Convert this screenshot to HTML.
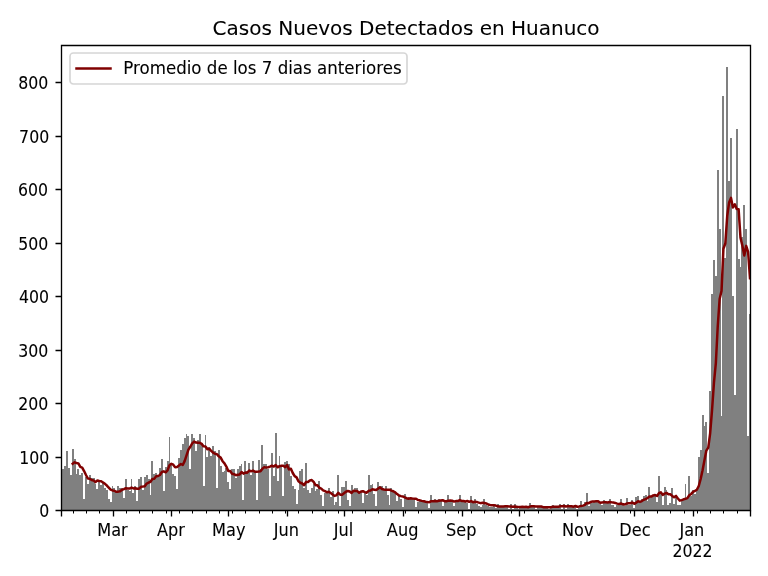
<!DOCTYPE html>
<html lang="es"><head><meta charset="utf-8"><title>Casos Nuevos Detectados en Huanuco</title>
<style>html,body{margin:0;padding:0;background:#fff}svg{display:block}</style></head>
<body>
<svg width="768" height="576" viewBox="0 0 768 576">
<defs><clipPath id="ax"><rect x="61" y="45" width="689" height="465"/></clipPath></defs>
<rect width="768" height="576" fill="#fff"/>
<g clip-path="url(#ax)">
<path d="M61 510V469H62V469H64V466H66V451H68V468H70V475H72V449H74V459H76V474H77V469H79V475H81V473H83V499H85V477H87V484H89V475H91V478H93V478H95V484H96V489H98V480H100V485H102V483H104V488H106V490H108V499H110V502H112V486H113V488H115V491H117V486H119V488H121V488H123V498H125V479H127V490H129V491H131V479H132V493H134V486H136V501H138V479H140V477H142V490H144V477H146V475H148V479H150V495H151V461H153V474H155V473H157V475H159V468H161V459H163V491H165V467H167V461H169V437H170V465H172V474H174V476H176V489H178V458H180V450H182V444H184V438H186V434H187V436H189V469H191V434H193V438H195V451H197V440H199V434H201V443H203V486H205V435H206V457H208V447H210V456H212V446H214V451H216V488H218V450H220V466H222V472H224V471H225V468H227V482H229V489H231V469H233V469H235V478H237V469H239V466H241V464H242V500H244V461H246V471H248V463H250V475H252V461H254V471H256V500H258V460H260V469H261V445H263V464H265V464H267V469H269V496H271V453H273V476H275V433H277V481H279V456H280V467H282V496H284V462H286V461H288V464H290V476H292V486H294V489H296V504H298V490H299V471H301V469H303V488H305V463H307V490H309V493H311V488H313V484H315V491H316V489H318V481H320V495H322V506H324V493H326V492H328V488H330V497H332V491H334V505H335V502H337V475H339V506H341V487H343V487H345V481H347V500H349V506H351V485H353V491H354V488H356V488H358V492H360V491H362V503H364V492H366V495H368V475H370V485H372V484H373V494H375V506H377V482H379V486H381V486H383V489H385V486H387V495H389V505H390V488H392V491H394V493H396V501H398V496H400V499H402V507H404V494H406V498H408V497H409V498H411V498H413V500H415V507H417V502H419V500H421V501H423V500H425V502H427V502H428V508H430V495H432V501H434V499H436V501H438V499H440V500H442V506H444V502H445V502H447V495H449V501H451V500H453V506H455V502H457V501H459V495H461V501H463V502H464V502H466V503H468V509H470V496H472V502H474V499H476V504H478V506H480V507H482V505H483V499H485V505H487V506H489V507H491V507H493V506H495V508H497V504H499V506H501V506H502V506H504V506H506V507H508V509H510V504H512V509H514V504H516V507H518V509H519V507H521V507H523V507H525V507H527V507H529V503H531V507H533V507H535V509H537V507H538V507H540V507H542V507H544V507H546V507H548V509H550V507H552V505H554V507H556V507H557V506H559V504H561V509H563V504H565V509H567V504H569V507H571V507H573V507H574V505H576V509H578V506H580V501H582V505H584V502H586V493H588V506H590V501H592V503H593V501H595V502H597V502H599V504H601V505H603V500H605V502H607V502H609V499H611V505H612V505H614V507H616V505H618V505H620V499H622V505H624V506H626V498H628V505H630V505H631V500H633V508H635V497H637V496H639V503H641V499H643V496H645V495H647V501H648V487H650V496H652V495H654V496H656V502H658V476H660V494H662V505H664V487H666V490H667V505H669V503H671V488H673V504H675V496H677V505H679V505H681V501H683V498H685V484H686V499H688V476H690V496H692V490H694V494H696V490H698V457H700V450H702V415H704V426H705V422H707V473H709V391H711V294H713V260H715V276H717V170H719V229H721V416H722V96H724V258H726V67H728V181H730V138H732V296H734V395H736V129H738V259H740V267H741V237H743V205H745V229H747V436H749V314H750V510Z" fill="#808080" shape-rendering="crispEdges"/>
<path d="M72.7 463.7L74.6 462.32L76.5 463.01L78.39 463.47L80.29 466.86L82.19 467.55L84.09 471.06L85.98 474.99L87.88 478.51L89.78 478.66L91.67 479.96L93.57 480.42L95.47 482.09L97.37 480.57L99.26 481.03L101.16 481.25L103.06 482.48L104.95 483.85L106.85 485.53L108.75 487.59L110.65 489.58L112.54 490.42L114.44 490.72L116.34 491.79L118.23 491.64L120.13 491.33L122.03 489.73L123.93 489.08L125.82 488.16L127.72 488.55L129.62 488.62L131.51 487.63L133.41 488.47L135.31 488.24L137.21 488.74L139.1 488.74L141 486.83L142.9 486.6L144.79 486.22L146.69 483.55L148.59 482.63L150.49 481.75L152.38 479.08L154.28 478.66L156.18 476.29L158.07 475.99L159.97 474.99L161.87 472.02L163.77 471.37L165.66 472.28L167.56 470.41L169.46 465.22L171.35 463.85L173.25 464.73L175.15 467.17L177.05 466.9L178.94 465.53L180.84 464L182.74 464.99L184.63 461.1L186.53 455.34L188.43 449.61L190.33 446.75L192.22 443.31L194.12 441.56L196.02 442.55L197.91 442.85L199.81 442.85L201.71 443.92L203.61 446.37L205.5 446.52L207.4 449.19L209.3 448.66L211.19 450.95L213.09 452.7L214.99 453.77L216.89 454.11L218.78 456.33L220.68 457.63L222.58 461.21L224.47 463.35L226.37 466.56L228.27 470.99L230.17 471.02L232.06 473.7L233.96 474.23L235.86 475.15L237.75 474.84L239.65 474.54L241.55 472.02L243.45 473.62L245.34 472.48L247.24 472.7L249.14 470.49L251.03 471.33L252.93 470.57L254.83 471.64L256.73 471.64L258.62 471.48L260.52 471.25L262.42 468.66L264.31 467.13L266.21 467.59L268.11 467.28L270.01 466.67L271.9 465.68L273.8 466.6L275.7 464.96L277.59 467.32L279.49 466.18L281.39 465.8L283.29 465.8L285.18 467.17L287.08 465.03L288.98 469.42L290.88 468.73L292.77 473.01L294.67 476.18L296.57 477.35L298.46 481.32L300.36 482.77L302.26 483.46L304.16 485.22L306.05 481.93L307.95 482.05L309.85 480.45L311.74 480.07L313.64 481.98L315.54 485.19L317.44 485.26L319.33 487.78L321.23 488.55L323.13 490.42L325.02 491.18L326.92 492.25L328.82 491.71L330.72 492.94L332.61 494.39L334.51 495.87L336.41 495.34L338.3 492.74L340.2 494.73L342.1 494.65L344 493.2L345.89 491.75L347.79 490.95L349.69 491.48L351.58 492.94L353.48 490.87L355.38 490.99L357.28 491.1L359.17 492.78L361.07 491.56L362.97 491.18L364.86 492.17L366.76 492.71L368.66 490.84L370.56 490.49L372.45 489.27L374.35 489.65L376.25 490.03L378.14 488.58L380.04 487.36L381.94 488.97L383.84 489.42L385.73 489.69L387.63 489.84L389.53 489.69L391.42 490.57L393.32 491.26L395.22 492.32L397.12 494.11L399.01 495.52L400.91 496.13L402.81 496.44L404.7 497.32L406.6 498.23L408.5 498.77L410.4 498.28L412.29 498.58L414.19 498.74L416.09 498.74L417.98 499.96L419.88 500.34L421.78 500.88L423.68 501.18L425.57 501.79L427.47 502.1L429.37 502.21L431.26 501.14L433.16 501.3L435.06 501.03L436.96 501.21L438.85 500.79L440.75 500.41L442.65 500.14L444.54 501.13L446.44 501.21L448.34 500.64L450.24 500.61L452.13 500.72L454.03 501.56L455.93 501.1L457.82 501.03L459.72 500.04L461.62 500.95L463.52 501.1L465.41 501.41L467.31 500.99L469.21 501.86L471.1 501.1L473 502.17L474.9 501.82L476.8 502.05L478.69 502.59L480.59 503.16L482.49 502.67L484.38 503.09L486.28 503.47L488.18 504.5L490.08 504.96L491.97 505.19L493.87 505.15L495.77 505.58L497.66 506.3L499.56 506.46L501.46 506.46L503.36 506.38L505.25 506.23L507.15 506.34L509.05 506.45L510.94 506.45L512.84 506.78L514.74 506.48L516.64 506.63L518.53 507.09L520.43 507.01L522.33 506.71L524.22 507.09L526.12 506.83L528.02 507.21L529.92 506.56L531.81 506.18L533.71 506.18L535.61 506.56L537.5 506.56L539.4 506.56L541.3 506.56L543.2 507.14L545.09 507.14L546.99 507.14L548.89 507.14L550.78 507.14L552.68 506.86L554.58 506.86L556.48 506.86L558.37 506.71L560.27 506.33L562.17 506.33L564.06 505.94L565.96 506.52L567.86 506.14L569.76 506.14L571.65 506.3L573.55 506.68L575.45 505.99L577.34 506.75L579.24 506.37L581.14 505.91L583.04 505.61L584.93 504.92L586.83 502.94L588.73 503.17L590.62 501.94L592.52 501.45L594.42 501.45L596.32 501.14L598.21 501.22L600.11 502.75L602.01 502.52L603.9 502.36L605.8 502.33L607.7 502.55L609.6 502.02L611.49 502.33L613.39 502.55L615.29 502.94L617.18 503.62L619.08 503.96L620.98 503.43L622.88 504.34L624.77 504.57L626.67 503.5L628.57 503.2L630.46 503.23L632.36 502.51L634.26 503.85L636.16 502.68L638.05 501.17L639.95 501.89L641.85 501.01L643.74 499.76L645.64 499.07L647.54 498L649.44 496.58L651.33 496.56L653.23 495.45L655.13 495.03L657.02 495.95L658.92 493.23L660.82 492.27L662.72 494.87L664.61 493.65L666.51 492.9L668.41 494.2L670.3 494.24L672.2 495.94L674.1 497.31L676 495.94L677.89 498.53L679.79 500.65L681.69 500.11L683.58 499.39L685.48 498.81L687.38 498.13L689.28 495.32L691.17 493.95L693.07 491.84L694.97 490.84L696.86 489.77L698.76 485.99L700.66 479L702.56 470.27L704.45 460.31L706.35 450.59L708.25 447.57L710.14 433.37L712.04 410.06L713.94 382.92L715.84 363.08L717.73 326.55L719.63 298.99L721.53 290.85L723.42 248.71L725.32 243.52L727.22 216.04L729.12 202.45L731.01 197.87L732.91 207.41L734.81 204.28L736.7 209.01L738.6 209.17L740.5 237.72L742.4 245.81L744.29 255.43L746.19 245.89L748.09 251.77L749.99 278.18" fill="none" stroke="#800000" stroke-width="2.5" stroke-linejoin="round" stroke-linecap="square"/>
</g>
<path d="M61.5 510.5v6M113.5 510.5v6M171.5 510.5v6M228.5 510.5v6M287.5 510.5v6M344.5 510.5v6M403.5 510.5v6M462.5 510.5v6M519.5 510.5v6M577.5 510.5v6M634.5 510.5v6M693.5 510.5v6M750.5 510.5v6" stroke="#000" stroke-width="1.33" fill="none"/>
<path d="M73.5 510.5v3M86.5 510.5v3M99.5 510.5v3M126.5 510.5v3M139.5 510.5v3M152.5 510.5v3M166.5 510.5v3M179.5 510.5v3M192.5 510.5v3M206.5 510.5v3M219.5 510.5v3M232.5 510.5v3M245.5 510.5v3M259.5 510.5v3M272.5 510.5v3M285.5 510.5v3M298.5 510.5v3M312.5 510.5v3M325.5 510.5v3M338.5 510.5v3M352.5 510.5v3M365.5 510.5v3M378.5 510.5v3M391.5 510.5v3M405.5 510.5v3M418.5 510.5v3M431.5 510.5v3M445.5 510.5v3M458.5 510.5v3M471.5 510.5v3M484.5 510.5v3M498.5 510.5v3M511.5 510.5v3M524.5 510.5v3M538.5 510.5v3M551.5 510.5v3M564.5 510.5v3M591.5 510.5v3M604.5 510.5v3M617.5 510.5v3M630.5 510.5v3M644.5 510.5v3M657.5 510.5v3M670.5 510.5v3M684.5 510.5v3M697.5 510.5v3M710.5 510.5v3M723.5 510.5v3M737.5 510.5v3" stroke="#000" stroke-width="1" fill="none"/>
<path d="M61.5 510.5h-6M61.5 457.5h-6M61.5 403.5h-6M61.5 350.5h-6M61.5 296.5h-6M61.5 243.5h-6M61.5 189.5h-6M61.5 136.5h-6M61.5 82.5h-6" stroke="#000" stroke-width="1.33" fill="none"/>
<path d="M61.5 45.5V510.5M750.5 45.5V510.5M61.5 510.5H750.5M61.5 45.5H750.5" stroke="#000" stroke-width="1.33" stroke-linecap="square" fill="none"/>
<g font-family="'DejaVu Sans', 'Liberation Sans', sans-serif" font-size="16.67" fill="#000" stroke="#000" stroke-width="0.08">
<text transform="translate(112.46 536.2) scale(0.97 1.075)" text-anchor="middle">Mar</text>
<text transform="translate(171 536.2) scale(0.97 1.075)" text-anchor="middle">Apr</text>
<text transform="translate(228.75 536.2) scale(0.97 1.075)" text-anchor="middle">May</text>
<text transform="translate(286.44 536.2) scale(0.97 1.075)" text-anchor="middle">Jun</text>
<text transform="translate(343.38 536.2) scale(0.97 1.075)" text-anchor="middle">Jul</text>
<text transform="translate(402.62 536.2) scale(0.97 1.075)" text-anchor="middle">Aug</text>
<text transform="translate(461.25 536.2) scale(0.97 1.075)" text-anchor="middle">Sep</text>
<text transform="translate(518.84 536.2) scale(0.97 1.075)" text-anchor="middle">Oct</text>
<text transform="translate(577.74 536.2) scale(0.97 1.075)" text-anchor="middle">Nov</text>
<text transform="translate(634.91 536.2) scale(0.97 1.075)" text-anchor="middle">Dec</text>
<text transform="translate(679.41 536.2) scale(0.97 1.075)">Jan</text>
<text transform="translate(672.38 557.2) scale(0.945 1.075)">2022</text>
<text transform="translate(49.17 517.2) scale(0.945 1.075)" text-anchor="end">0</text>
<text transform="translate(49.32 464.2) scale(0.945 1.075)" text-anchor="end">100</text>
<text transform="translate(48.38 410.2) scale(0.945 1.075)" text-anchor="end">200</text>
<text transform="translate(48.3 357.2) scale(0.945 1.075)" text-anchor="end">300</text>
<text transform="translate(48.98 303.2) scale(0.945 1.075)" text-anchor="end">400</text>
<text transform="translate(48.26 250.2) scale(0.945 1.075)" text-anchor="end">500</text>
<text transform="translate(48.05 196.2) scale(0.945 1.075)" text-anchor="end">600</text>
<text transform="translate(49.17 143.2) scale(0.945 1.075)" text-anchor="end">700</text>
<text transform="translate(48.23 89.2) scale(0.945 1.075)" text-anchor="end">800</text>
<text x="406.1" y="35.2" text-anchor="middle" font-size="20">Casos Nuevos Detectados en Huanuco</text>
</g>
<rect x="70" y="53" width="337" height="31" rx="3.33" ry="3.33" fill="#fff" stroke="#ccc" stroke-width="1.667" opacity="0.8"/>
<path d="M76.5 68.5H110.5" stroke="#800000" stroke-width="2.5" stroke-linecap="square" fill="none"/>
<text transform="translate(123.23 74.2) scale(1 1.075)" font-family="'DejaVu Sans', 'Liberation Sans', sans-serif" font-size="16.67" fill="#000" stroke="#000" stroke-width="0.08">Promedio de los 7 dias anteriores</text>
</svg>
</body></html>
